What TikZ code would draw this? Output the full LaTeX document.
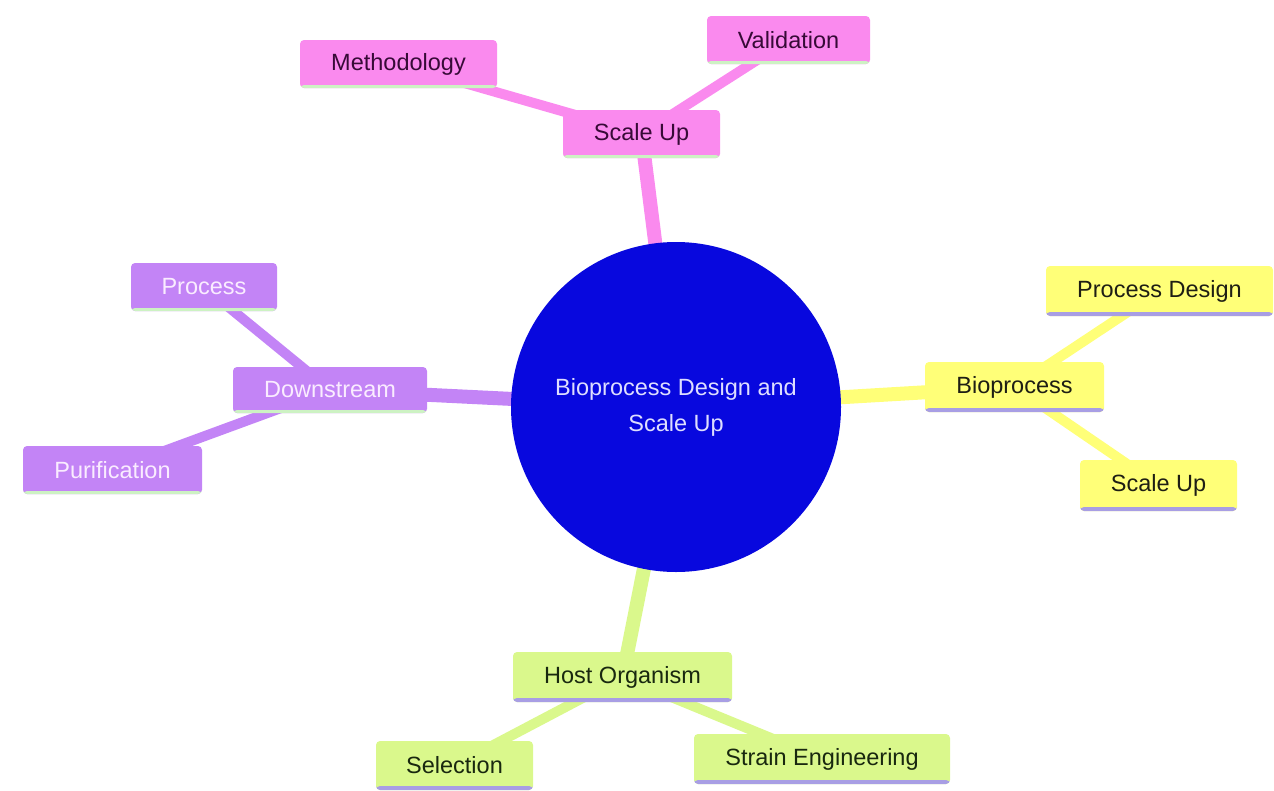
\documentclass[tikz,border=0pt]{standalone}
\usepackage{fontspec}
\setmainfont{Liberation Sans}
\usetikzlibrary{backgrounds}
\definecolor{pinkc}{RGB}{250,138,238}
\definecolor{yellowc}{RGB}{255,255,120}
\definecolor{purplec}{RGB}{195,132,246}
\definecolor{greenc}{RGB}{218,248,140}
\definecolor{bluec}{RGB}{8,8,222}
\definecolor{lavline}{RGB}{168,158,228}
\definecolor{grnline}{RGB}{205,242,195}
\definecolor{pinktext}{RGB}{55,10,55}
\definecolor{yeltext}{RGB}{30,30,20}
\definecolor{purtext}{RGB}{250,236,255}
\definecolor{grntext}{RGB}{25,40,15}
\definecolor{bluetext}{RGB}{222,222,255}
\tikzset{
  box/.style={rectangle, rounded corners=4pt, inner sep=0pt, align=center,
    font=\fontsize{23.5}{36}\selectfont},
  pinkbox/.style={box, fill=pinkc, text=pinktext,
    path picture={\fill[grnline] (path picture bounding box.south west) rectangle ([yshift=3pt]path picture bounding box.south east);}},
  yelbox/.style={box, fill=yellowc, text=yeltext,
    path picture={\fill[lavline] (path picture bounding box.south west) rectangle ([yshift=4pt]path picture bounding box.south east);}},
  purbox/.style={box, fill=purplec, text=purtext,
    path picture={\fill[grnline] (path picture bounding box.south west) rectangle ([yshift=3pt]path picture bounding box.south east);}},
  grnbox/.style={box, fill=greenc, text=grntext,
    path picture={\fill[lavline] (path picture bounding box.south west) rectangle ([yshift=4pt]path picture bounding box.south east);}},
  mainedge/.style={line width=14pt},
  subedge/.style={line width=10pt},
}
\begin{document}
\begin{tikzpicture}[x=1pt,y=-1pt]
\useasboundingbox (0,0) rectangle (1274,790);
% root
\node[circle, fill=bluec, minimum size=330pt, inner sep=0pt, text=bluetext, align=center,
  font=\fontsize{23.5}{36}\selectfont] (root) at (676,407) {Bioprocess Design and\\Scale Up};
% pink branch
\node[pinkbox, minimum width=157pt, minimum height=48pt] (su) at (641.5,134) {Scale Up};
\node[pinkbox, minimum width=197pt, minimum height=48pt] (meth) at (398.5,64) {Methodology};
\node[pinkbox, minimum width=163pt, minimum height=48pt] (val) at (788.5,40) {Validation};
% yellow branch
\node[yelbox, minimum width=179pt, minimum height=50pt] (bio) at (1014.5,387) {Bioprocess};
\node[yelbox, minimum width=227pt, minimum height=50pt] (pd) at (1159.5,291) {Process Design};
\node[yelbox, minimum width=157pt, minimum height=51pt] (su2) at (1158.5,485.5) {Scale Up};
% purple branch
\node[purbox, minimum width=194pt, minimum height=46pt] (down) at (330,390) {Downstream};
\node[purbox, minimum width=146pt, minimum height=48pt] (proc) at (204,287) {Process};
\node[purbox, minimum width=179pt, minimum height=48pt] (pur) at (112.5,470) {Purification};
% green branch
\node[grnbox, minimum width=219pt, minimum height=50pt] (host) at (622.5,677) {Host Organism};
\node[grnbox, minimum width=157pt, minimum height=49pt] (sel) at (454.5,765.5) {Selection};
\node[grnbox, minimum width=256pt, minimum height=50pt] (strain) at (822,759) {Strain Engineering};
\begin{scope}[on background layer]
  \draw[mainedge, pinkc] (root.center) -- (su.center);
  \draw[subedge, pinkc] (su.center) -- (meth.center);
  \draw[subedge, pinkc] (su.center) -- (val.center);
  \draw[mainedge, yellowc] (root.center) -- (bio.center);
  \draw[subedge, yellowc] (bio.center) -- (pd.center);
  \draw[subedge, yellowc] (bio.center) -- (su2.center);
  \draw[mainedge, purplec] (root.center) -- (down.center);
  \draw[subedge, purplec] (down.center) -- (proc.center);
  \draw[subedge, purplec] (down.center) -- (pur.center);
  \draw[mainedge, greenc] (root.center) -- (host.center);
  \draw[subedge, greenc] (host.center) -- (sel.center);
  \draw[subedge, greenc] (host.center) -- (strain.center);
\end{scope}
\end{tikzpicture}
\end{document}
